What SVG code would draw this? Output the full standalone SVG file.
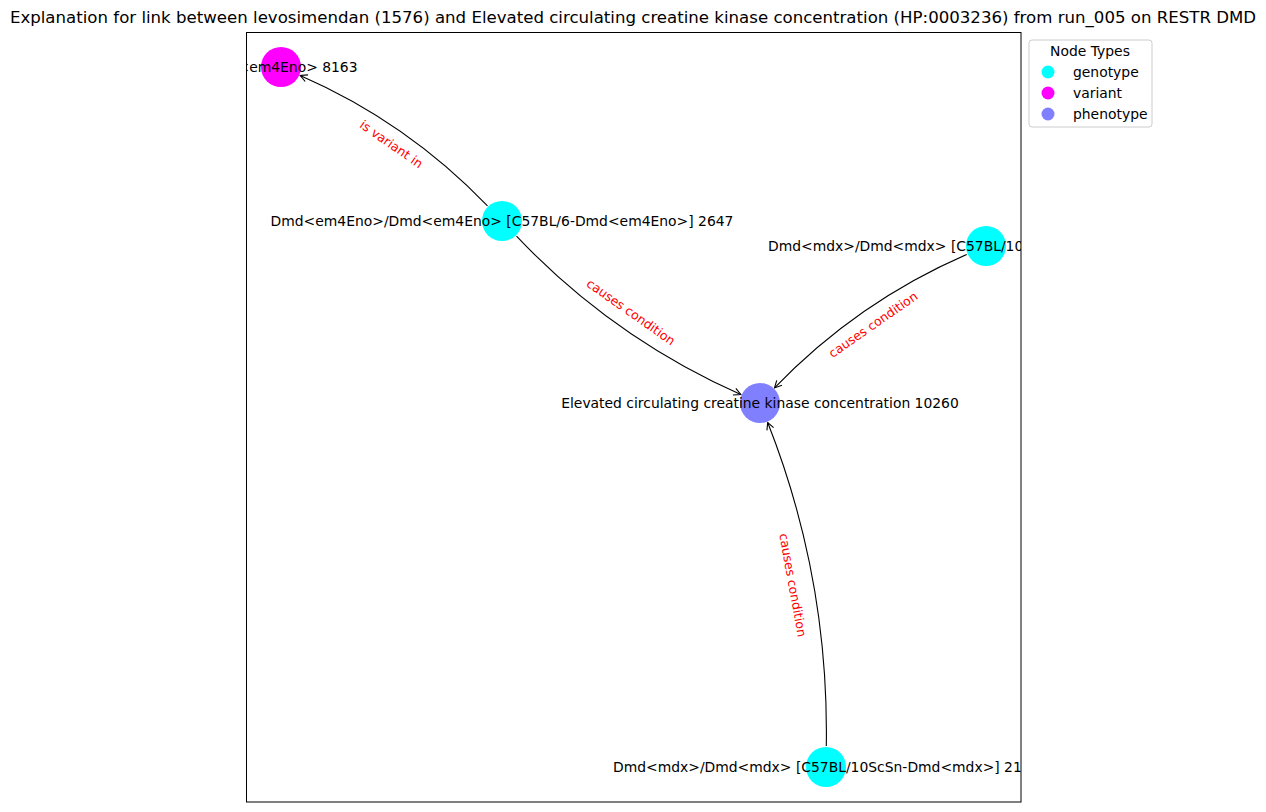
<svg xmlns="http://www.w3.org/2000/svg" width="1266" height="812" viewBox="0 0 1266 812">
<defs>
<clipPath id="ax"><rect x="246" y="32" width="775" height="770"/></clipPath>
<marker id="arr" viewBox="-9 -5 10 10" markerWidth="10" markerHeight="10" refX="0" refY="0" orient="auto" markerUnits="userSpaceOnUse">
<path d="M-7,-3.6 L0,0 L-7,3.6" fill="none" stroke="#000" stroke-width="1.1"/>
</marker>
</defs>
<style>
text{font-family:"DejaVu Sans","Liberation Sans",sans-serif;}
.title{font-size:16.6px;fill:#000;}
.nl{font-size:13.9px;fill:#000;dominant-baseline:central;}
.el{font-size:12.5px;fill:#ff0000;dominant-baseline:central;text-anchor:middle;}
.edge{fill:none;stroke:#000;stroke-width:1.1;marker-end:url(#arr);}
.geno{fill:#00ffff;}
.var{fill:#ff00ff;}
.phen{fill:#8080ff;}
.lg{font-size:13.9px;fill:#000;dominant-baseline:central;}
</style>
<rect width="1266" height="812" fill="#fff"/>
<text class="title" x="633" y="23" text-anchor="middle">Explanation for link between levosimendan (1576) and Elevated circulating creatine kinase concentration (HP:0003236) from run_005 on RESTR DMD</text>
<rect x="246.5" y="32.5" width="774.5" height="769.5" fill="none" stroke="#000" stroke-width="1"/>
<g id="connectors" clip-path="url(#ax)">
<path class="edge" d="M487.5,205.8 Q407,122 300.2,75.4"/>
<path class="edge" d="M516.5,236.2 Q613,338 740.8,394.5"/>
<path class="edge" d="M966.7,254.4 Q857,302 774.5,387.9"/>
<path class="edge" d="M826.3,746 Q829,578 767.7,422.5"/>
<text class="el" transform="translate(391.5,144) rotate(34.9)">is variant in</text>
<text class="el" transform="translate(631,312) rotate(35.2)">causes condition</text>
<text class="el" transform="translate(873,324.5) rotate(-34.8)">causes condition</text>
<text class="el" transform="translate(793,585) rotate(79.7)">causes condition</text>
</g>
<g clip-path="url(#ax)">
<g id="node-variant-8163">
<circle class="var" cx="281" cy="67" r="20"/>
<text class="nl" x="281" y="67" text-anchor="middle">Dmd&lt;em4Eno&gt; 8163</text>
</g>
<g id="node-genotype-2647">
<circle class="geno" cx="502" cy="221" r="20"/>
<text class="nl" x="502" y="221" text-anchor="middle">Dmd&lt;em4Eno&gt;/Dmd&lt;em4Eno&gt; [C57BL/6-Dmd&lt;em4Eno&gt;] 2647</text>
</g>
<g id="node-genotype-mdx-right">
<circle class="geno" cx="986" cy="246" r="20"/>
<text class="nl" x="768" y="246">Dmd&lt;mdx&gt;/Dmd&lt;mdx&gt; [C57BL/10</text>
</g>
<g id="node-phenotype-10260">
<circle class="phen" cx="760" cy="403" r="20"/>
<text class="nl" x="760" y="403" text-anchor="middle">Elevated circulating creatine kinase concentration 10260</text>
</g>
<g id="node-genotype-mdx-bottom">
<circle class="geno" cx="826" cy="767" r="20"/>
<text class="nl" x="613" y="767">Dmd&lt;mdx&gt;/Dmd&lt;mdx&gt; [C57BL/10ScSn-Dmd&lt;mdx&gt;] 21</text>
</g>
</g>
<g id="legend">
<rect x="1029" y="40" width="123" height="87" rx="3" fill="#fff" fill-opacity="0.8" stroke="#ccc" stroke-width="1"/>
<text class="lg" x="1090" y="51" text-anchor="middle">Node Types</text>
<circle class="geno" cx="1048" cy="72" r="6.5"/>
<text class="lg" x="1073" y="72">genotype</text>
<circle class="var" cx="1048" cy="93" r="6.5"/>
<text class="lg" x="1073" y="93">variant</text>
<circle class="phen" cx="1048" cy="114" r="6.5"/>
<text class="lg" x="1073" y="114">phenotype</text>
</g>
</svg>
